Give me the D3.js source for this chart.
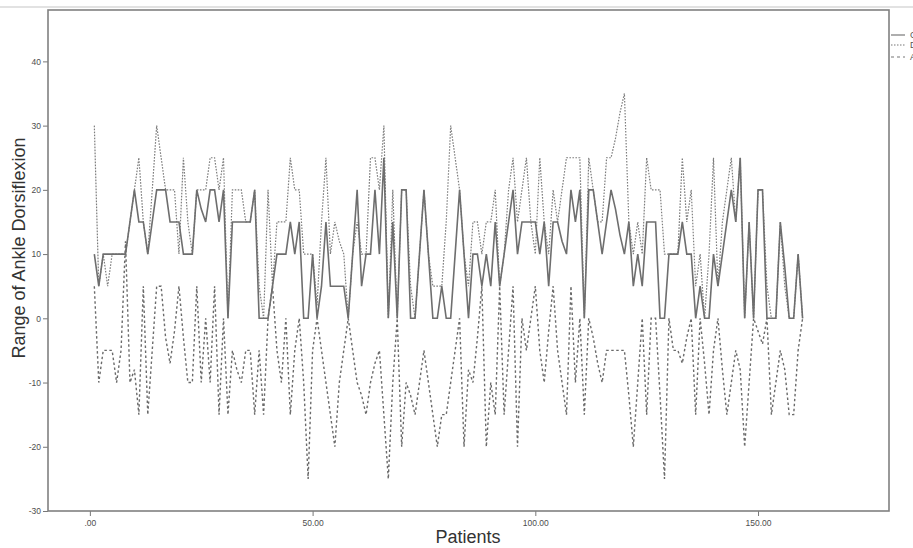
<!DOCTYPE html>
<meta charset="utf-8">
<style>
body { margin: 0; background: #fff; }
svg { display: block; font-family: "Liberation Sans", Arial, sans-serif; }
.tick text { fill: #4d4d4d; font-size: 8.5px; }
.tick line { stroke: #777; }
</style>
<script src="https://d3js.org/d3.v7.min.js"></script>
<div id="chart"></div>
<script>

// values, patient 1..160
var totalRange = [
  10,5,10,10,10,10,10,10,15,20,
  15,15,10,15,20,20,20,15,15,15,
  10,10,10,20,17,15,20,20,15,20,
  0,15,15,15,15,15,20,0,0,0,
  5,10,10,10,15,10,15,0,0,10,
  0,5,15,5,5,5,5,0,10,20,
  5,10,10,20,10,25,0,15,0,20,
  20,0,0,10,20,10,0,0,5,0,
  0,10,20,10,0,10,10,5,10,5,
  15,5,10,15,20,10,15,15,15,15,
  10,15,5,15,15,12,10,20,15,20,
  0,20,20,15,10,15,20,17,13,10,
  15,5,10,5,15,15,15,0,0,10,
  10,10,15,10,10,0,5,0,0,10,
  5,10,15,20,15,25,0,15,0,20,
  20,0,0,0,15,8,0,0,10,0
];
var dorsiflexion = [
  30,5,10,5,10,10,10,10,15,20,
  25,15,10,20,30,25,20,20,20,10,
  25,15,10,20,20,20,25,25,20,25,
  0,20,20,20,15,15,20,5,0,20,
  5,15,15,15,25,20,20,10,10,10,
  2,15,25,10,15,12,10,0,10,15,
  10,10,25,25,20,30,0,20,0,20,
  20,5,0,10,20,10,5,5,5,15,
  30,25,20,10,5,15,15,10,15,15,
  20,5,10,20,25,15,20,25,15,10,
  25,15,10,20,15,20,25,25,25,25,
  0,25,20,15,15,25,25,28,32,35,
  15,10,15,10,25,20,20,20,10,10,
  10,10,25,15,20,5,10,0,10,25,
  5,15,20,25,15,25,0,15,0,20,
  20,5,0,0,15,5,0,0,10,0
];
var plantarflexion = [
  5,-10,-5,-5,-5,-10,-5,12,-10,-8,
  -15,5,-15,-5,5,5,-3,-7,-2,5,
  -3,-10,-10,5,-10,0,-10,5,-15,0,
  -15,-5,-8,-10,-5,-5,-15,-5,-15,0,
  5,-5,-10,0,-15,-5,0,-10,-25,-5,
  0,-5,-10,-15,-20,-10,-5,0,-5,-10,
  -12,-15,-10,-7,-5,-15,-25,-10,0,-20,
  -10,-12,-15,-10,-5,-10,-15,-20,-15,-15,
  -10,-5,0,-20,-8,-10,-3,5,-20,-10,
  -15,5,-15,-5,5,-20,0,-5,0,5,
  -5,-10,-2,5,-5,-10,-15,5,-10,0,
  -15,0,-3,-7,-10,-5,-5,-5,-5,-5,
  -12,-20,-10,0,-15,0,0,-12,-25,0,
  -5,-5,-7,-3,0,-15,0,-7,-15,-5,
  0,-8,-15,-10,-5,-8,-20,-10,0,-2,
  -4,0,-15,-10,-5,-8,-15,-15,-5,0
];
var yTicks = [-30, -20, -10, 0, 10, 20, 30, 40];
var xTicks = [0, 50, 100, 150];
var legendLabels = ["Change", "Dorsiflexion", "Angle"];

var width = 913, height = 548;
var margin = {top: 10, right: 24, bottom: 37, left: 48};

var svg = d3.select("#chart").append("svg")
    .attr("width", width)
    .attr("height", height);

var x = d3.scaleLinear()
    .domain([-9.4, 179.4])
    .range([margin.left, width - margin.right]);

var y = d3.scaleLinear()
    .domain([-30, 48])
    .range([height - margin.bottom, margin.top]);

// faint line along the top of the picture
svg.append("line")
    .attr("x1", 0).attr("x2", width)
    .attr("y1", 7).attr("y2", 7)
    .attr("stroke", "#e2e2e2")
    .attr("stroke-width", 2);

var yAxis = svg.append("g")
    .attr("transform", "translate(" + margin.left + ",0)")
    .call(d3.axisLeft(y).tickValues(yTicks).tickSize(5).tickPadding(2)
      .tickFormat(function(d) { return String(d); }));
yAxis.select(".domain").remove();

var xAxis = svg.append("g")
    .attr("transform", "translate(0," + (height - margin.bottom) + ")")
    .call(d3.axisBottom(x).tickValues(xTicks).tickSize(5).tickPadding(4)
      .tickFormat(function(d) { return d === 0 ? ".00" : d.toFixed(2); }));
xAxis.select(".domain").remove();

var line = d3.line()
    .x(function(d, i) { return x(i + 1); })
    .y(function(d) { return y(d); });

var series = [
  {values: dorsiflexion, color: "#7d7d7d", width: 1.2, dash: "1.6,1.4"},
  {values: plantarflexion, color: "#6a6a6a", width: 1.4, dash: "2.5,2.5"},
  {values: totalRange, color: "#6e6e6e", width: 1.6, dash: null}
];

series.forEach(function(s) {
  svg.append("path")
      .datum(s.values)
      .attr("fill", "none")
      .attr("stroke", s.color)
      .attr("stroke-width", s.width)
      .attr("stroke-linejoin", "miter")
      .attr("stroke-dasharray", s.dash)
      .attr("d", line);
});

// frame
svg.append("rect")
    .attr("x", margin.left)
    .attr("y", margin.top)
    .attr("width", width - margin.left - margin.right)
    .attr("height", height - margin.top - margin.bottom)
    .attr("fill", "none")
    .attr("stroke", "#808080")
    .attr("stroke-width", 1.6);

// axis titles
svg.append("text")
    .attr("transform", "translate(25,248) rotate(-90)")
    .attr("text-anchor", "middle")
    .style("font-size", "18px")
    .style("fill", "#333")
    .text("Range of Ankle Dorsiflexion");

svg.append("text")
    .attr("x", 468)
    .attr("y", 543)
    .attr("text-anchor", "middle")
    .style("font-size", "18px")
    .style("fill", "#333")
    .text("Patients");

// legend, cut off by the right edge as in the source
var legendStyles = [null, "1.5,1.5", "3,3"];
var legend = svg.selectAll(".legend")
    .data(legendLabels)
  .enter().append("g")
    .attr("class", "legend")
    .attr("transform", function(d, i) { return "translate(891," + [35, 45, 57][i] + ")"; });

legend.append("line")
    .attr("x1", 0).attr("x2", 14)
    .attr("stroke", "#777")
    .attr("stroke-width", 1.2)
    .attr("stroke-dasharray", function(d, i) { return legendStyles[i]; });

legend.append("text")
    .attr("x", 19)
    .attr("dy", "0.35em")
    .style("font-size", "9px")
    .style("fill", "#555")
    .text(function(d) { return d; });

</script>
